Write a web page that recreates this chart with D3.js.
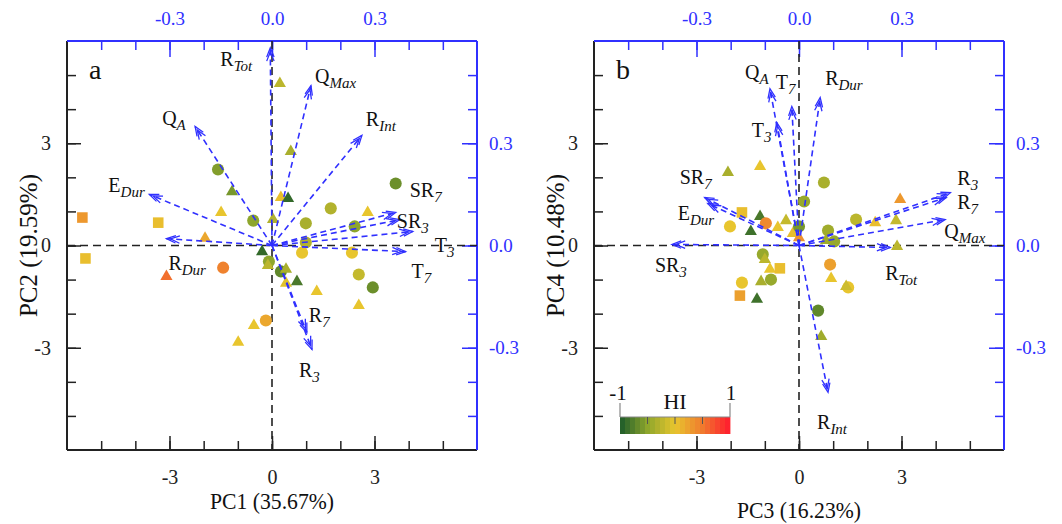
<!DOCTYPE html>
<html lang="en">
<head>
<meta charset="UTF-8">
<title>PCA biplots</title>
<script src="https://d3js.org/d3.v7.min.js"></script>
<style>
  body { margin: 0; background: #fff; }
  svg { display: block; font-family: "Liberation Serif", "Times New Roman", serif; }
</style>
</head>
<body>
<svg width="1062" height="524"></svg>
<script>
// variable names (main letters + subscript)
const varMain = ["R", "Q", "R", "Q", "E", "R", "SR", "SR", "T", "T", "R", "R"];
const varSub  = ["Tot", "Max", "Int", "A", "Dur", "Dur", "7", "3", "3", "7", "7", "3"];

// loadings, panel a (PC1, PC2)
const loadA1 = [-0.005, 0.114, 0.263, -0.225, -0.359, -0.309, 0.362, 0.374, 0.412, 0.391, 0.102, 0.117];
const loadA2 = [0.580, 0.469, 0.323, 0.349, 0.150, 0.020, 0.097, 0.076, 0.041, -0.018, -0.255, -0.305];
// loadings, panel b (PC3, PC4)
const loadB3 = [0.267, 0.428, 0.085, -0.085, -0.267, 0.062, -0.276, -0.372, -0.065, -0.021, 0.431, 0.443];
const loadB4 = [-0.006, 0.076, -0.431, 0.460, 0.123, 0.434, 0.141, 0.003, 0.361, 0.408, 0.141, 0.155];

// scores, panel a
const scoreA1 = [0.23, -1.58, -1.17, -1.49, -0.55, 0.03, -5.55, -3.33, -1.96, 0.55, 0.26, 0.47, 1.72, 0.99, 2.42, 3.62, 2.80, 0.99, 0.88, 2.34, -5.46, -3.09, -1.43, -0.29, -0.09, -0.12, 0.26, 0.41, 0.41, 0.73, -0.18, -0.53, -0.99, 1.31, 2.54, 2.95, 2.54];
const scoreA2 = [4.75, 2.23, 1.58, 0.97, 0.73, 0.76, 0.82, 0.67, 0.21, 2.76, 1.41, 1.38, 1.09, 0.65, 0.56, 1.82, 0.97, 0.09, -0.21, -0.21, -0.38, -0.91, -0.65, -0.18, -0.47, -0.59, -0.76, -0.70, -1.11, -1.06, -2.20, -2.35, -2.84, -1.35, -0.85, -1.23, -1.76];
const hiA = [-0.25, -0.55, -0.6, 0.0, -0.5, -0.3, 0.3, 0.05, 0.2, -0.35, 0.05, -0.9, -0.3, -0.35, -0.5, -0.65, 0, -0.3, 0, 0, 0.05, 0.55, 0.45, -0.9, -0.5, -0.25, -0.7, -0.35, -0.05, -0.8, 0.2, 0, 0, 0, -0.2, -0.65, 0];
const shapeA = ["t", "c", "t", "t", "c", "t", "s", "s", "t", "t", "t", "t", "c", "c", "c", "c", "t", "c", "c", "c", "s", "t", "c", "t", "c", "t", "c", "t", "t", "t", "c", "t", "t", "t", "c", "c", "t"];

// scores, panel b
const scoreB3 = [-2.08, -1.14, 0.73, 0.15, -1.67, -1.14, -0.97, -0.38, -0.62, -2.02, -1.41, -0.18, 0.0, 0.0, 0.85, 2.96, 1.67, 2.23, 2.84, 0.79, 1.03, 2.87, -1.06, -1.0, -0.85, -0.56, -1.67, -1.11, -0.82, -1.73, -1.23, 0.56, 0.65, 0.91, 0.94, 1.44, 1.38];
const scoreB4 = [2.14, 2.32, 1.85, 1.29, 0.97, 0.85, 0.65, 0.73, 0.53, 0.56, 0.41, 0.35, 0.56, 0.23, 0.44, 1.35, 0.76, 0.67, 0.73, 0.15, 0.12, -0.03, -0.26, -0.41, -0.70, -0.67, -1.09, -1.06, -1.0, -1.47, -1.58, -1.91, -2.67, -0.56, -0.97, -1.23, -1.20];
const hiB = [-0.35, 0, -0.35, -0.45, 0.05, -0.8, 0.4, -0.2, 0, 0, -0.85, 0.05, -0.6, 0.35, -0.4, 0.3, -0.25, 0.05, -0.2, -0.4, -0.45, -0.25, -0.45, -0.25, 0, 0.05, 0, -0.35, -0.45, 0.25, -0.85, -0.7, -0.4, 0.25, 0, 0, -0.15];
const shapeB = ["t", "t", "c", "c", "s", "t", "c", "t", "t", "c", "t", "t", "c", "t", "c", "t", "c", "t", "t", "t", "c", "t", "c", "t", "t", "s", "c", "t", "c", "s", "t", "c", "t", "c", "t", "c", "t"];

// tick values
const scoreTicks = [-3, 0, 3];
const loadTicks = [-0.3, 0, 0.3];

// label nudges (px) relative to arrow tips, same order as varMain
const nudgeA = [[-50, 18], [4, -3], [4, -9], [-33, -2], [-41, -2], [2, 31], [14, -15], [-3, 8], [22, 20], [6, 26], [2, -10], [-13, 28]];
const nudgeB = [[-5, 32], [-1, 18], [-11, 37], [-25, -10], [-30, 16], [5, -13], [-25, -13], [-17, 28], [-25, 15], [-16, -17], [11, 12], [7, -8]];

const svg = d3.select("svg");
const blue = "#3030ff";
const ink = "#222";
const hiColor = d3.scaleLinear()
    .domain([-1, -0.5, 0, 0.5, 1])
    .range(["#1c5a2a", "#8ea62c", "#e8c52e", "#f07a2e", "#ff1a2e"]);
const symbols = {c: d3.symbolCircle, t: d3.symbolTriangle, s: d3.symbolSquare};
const symSize = {c: 115, t: 64, s: 112};

function styleAxis(sel, col, fs) {
    sel.select(".domain").remove();
    sel.selectAll(".tick line").attr("stroke", col).attr("stroke-width", 1.5);
    sel.selectAll(".tick text").attr("fill", col).attr("font-size", fs)
        .attr("font-family", "Liberation Serif, Times New Roman, serif");
}

function drawPanel(p) {
    const x = d3.scaleLinear().domain([-6, 6]).range([p.left, p.left + 410]);
    const y = d3.scaleLinear().domain([-6, 6]).range([450, 41]);
    const lx = d3.scaleLinear().domain([-0.6, 0.6]).range(x.range());
    const ly = d3.scaleLinear().domain([-0.6, 0.6]).range(y.range());
    const g = svg.append("g");
    const minor = d3.range(-5, 6);
    const fmtL = d => d.toFixed(1);

    // bottom
    g.append("g").attr("transform", "translate(0,450)")
        .call(d3.axisBottom(x).tickValues(minor).tickSizeInner(-9).tickSizeOuter(0).tickFormat(""))
        .call(s => styleAxis(s, ink, 20));
    g.append("g").attr("transform", "translate(0,450)")
        .call(d3.axisBottom(x).tickValues(scoreTicks).tickSizeInner(-14).tickSizeOuter(0).tickPadding(20).tickFormat(d => String(d)))
        .call(s => styleAxis(s, ink, 20));
    // left
    g.append("g").attr("transform", `translate(${p.left},0)`)
        .call(d3.axisLeft(y).tickValues(minor).tickSizeInner(-9).tickSizeOuter(0).tickFormat(""))
        .call(s => styleAxis(s, ink, 20));
    g.append("g").attr("transform", `translate(${p.left},0)`)
        .call(d3.axisLeft(y).tickValues(scoreTicks).tickSizeInner(-14).tickSizeOuter(0).tickPadding(16).tickFormat(d => String(d)))
        .call(s => styleAxis(s, ink, 20));
    // top (loadings)
    g.append("g").attr("transform", "translate(0,41)")
        .call(d3.axisTop(lx).tickValues(minor.map(d => d / 10)).tickSizeInner(-9).tickSizeOuter(0).tickFormat(""))
        .call(s => styleAxis(s, blue, 19));
    g.append("g").attr("transform", "translate(0,41)")
        .call(d3.axisTop(lx).tickValues(loadTicks).tickSizeInner(-16).tickSizeOuter(0).tickPadding(16).tickFormat(fmtL))
        .call(s => styleAxis(s, blue, 19));
    // right (loadings)
    g.append("g").attr("transform", `translate(${p.left + 410},0)`)
        .call(d3.axisRight(ly).tickValues(minor.map(d => d / 10)).tickSizeInner(-9).tickSizeOuter(0).tickFormat(""))
        .call(s => styleAxis(s, blue, 19));
    g.append("g").attr("transform", `translate(${p.left + 410},0)`)
        .call(d3.axisRight(ly).tickValues(loadTicks).tickSizeInner(-15).tickSizeOuter(0).tickPadding(12).tickFormat(fmtL))
        .call(s => styleAxis(s, blue, 19));

    // frame
    const [x0, x1] = x.range();
    g.append("line").attr("x1", x0).attr("x2", x0).attr("y1", 41).attr("y2", 450).attr("stroke", ink).attr("stroke-width", 2);
    g.append("line").attr("x1", x0).attr("x2", x1).attr("y1", 450).attr("y2", 450).attr("stroke", ink).attr("stroke-width", 2);
    g.append("line").attr("x1", x0).attr("x2", x1).attr("y1", 41).attr("y2", 41).attr("stroke", blue).attr("stroke-width", 2);
    g.append("line").attr("x1", x1).attr("x2", x1).attr("y1", 41).attr("y2", 450).attr("stroke", blue).attr("stroke-width", 2);

    // zero lines
    g.append("line").attr("x1", x0).attr("x2", x1).attr("y1", y(0)).attr("y2", y(0))
        .attr("stroke", ink).attr("stroke-width", 1.6).attr("stroke-dasharray", "8,5");
    g.append("line").attr("x1", x(0)).attr("x2", x(0)).attr("y1", 41).attr("y2", 450)
        .attr("stroke", ink).attr("stroke-width", 1.6).attr("stroke-dasharray", "8,5");

    // observations
    g.append("g").selectAll("path")
        .data(d3.range(p.sx.length))
        .join("path")
        .attr("transform", i => `translate(${x(p.sx[i])},${y(p.sy[i])})`)
        .attr("d", i => d3.symbol(symbols[p.shape[i]], symSize[p.shape[i]])())
        .attr("fill", i => hiColor(p.hi[i]));

    // loading vectors
    const ox = lx(0), oy = ly(0);
    const vec = g.append("g");
    varMain.forEach((m, i) => {
        const tx = lx(p.lx[i]), ty = ly(p.ly[i]);
        vec.append("line").attr("x1", ox).attr("y1", oy).attr("x2", tx).attr("y2", ty)
            .attr("stroke", blue).attr("stroke-width", 1.6).attr("stroke-dasharray", "6,4");
        const a = Math.atan2(ty - oy, tx - ox);
        [0, 4].forEach(k => {
            const bx = tx - k * Math.cos(a), by = ty - k * Math.sin(a);
            const w1 = [bx - 10 * Math.cos(a - 0.38), by - 10 * Math.sin(a - 0.38)];
            const w2 = [bx - 10 * Math.cos(a + 0.38), by - 10 * Math.sin(a + 0.38)];
            vec.append("path").attr("d", `M${w1}L${bx},${by}L${w2}`)
                .attr("fill", "none").attr("stroke", blue).attr("stroke-width", 1.3);
        });
        const t = vec.append("text")
            .attr("x", tx + p.nudge[i][0]).attr("y", ty + p.nudge[i][1])
            .attr("font-size", 20).attr("fill", "#111");
        t.append("tspan").text(m);
        t.append("tspan").attr("font-style", "italic").attr("font-size", 15).attr("dy", 5).text(varSub[i]);
    });

    // panel letter
    g.append("text").attr("x", x0 + 22).attr("y", 79).attr("font-size", 28).attr("fill", "#111").text(p.letter);

    // axis titles (the horizontal ones are set condensed, as in the figure)
    g.append("text").attr("x", x(0)).attr("y", p.xTitleY).attr("text-anchor", "middle")
        .attr("font-size", 23).attr("textLength", 124).attr("lengthAdjust", "spacingAndGlyphs")
        .attr("fill", "#111").text(p.xTitle);
    g.append("text").attr("transform", `translate(${x0 - 39},${y(0)}) rotate(-90)`)
        .attr("text-anchor", "middle").attr("dy", "0.35em")
        .attr("font-size", 25).attr("fill", "#111").text(p.yTitle);
}

drawPanel({left: 67, letter: "a", xTitle: "PC1 (35.67%)", yTitle: "PC2 (19.59%)", xTitleY: 509,
    sx: scoreA1, sy: scoreA2, hi: hiA, shape: shapeA, lx: loadA1, ly: loadA2, nudge: nudgeA});
drawPanel({left: 594, letter: "b", xTitle: "PC3 (16.23%)", yTitle: "PC4 (10.48%)", xTitleY: 518,
    sx: scoreB3, sy: scoreB4, hi: hiB, shape: shapeB, lx: loadB3, ly: loadB4, nudge: nudgeB});

// HI colour bar legend (panel b)
const lg = svg.append("g");
const lgx = d3.scaleLinear().domain([-1, 1]).range([620, 730]);
const steps = d3.range(22);
lg.selectAll("rect").data(steps).join("rect")
    .attr("x", i => lgx(-1 + i * 2 / 22))
    .attr("width", lgx(-1 + 2 / 22) - lgx(-1) + 0.4)
    .attr("y", 417).attr("height", 17)
    .attr("fill", i => hiColor(-1 + (i + 0.5) * 2 / 22));
lg.append("line").attr("x1", lgx(-1)).attr("x2", lgx(1)).attr("y1", 417).attr("y2", 417).attr("stroke", "#888").attr("stroke-width", 1);
[-1, 1].forEach(v => lg.append("line").attr("x1", lgx(v)).attr("x2", lgx(v)).attr("y1", 403).attr("y2", 417).attr("stroke", "#888").attr("stroke-width", 1.2));
[-0.5, 0, 0.5].forEach(v => lg.append("line").attr("x1", lgx(v)).attr("x2", lgx(v)).attr("y1", 417).attr("y2", 424).attr("stroke", "#555").attr("stroke-width", 1));
lg.append("text").attr("x", lgx(-1) - 2).attr("y", 400).attr("text-anchor", "middle").attr("font-size", 21).attr("fill", "#111").text("-1");
lg.append("text").attr("x", lgx(1) + 1).attr("y", 400).attr("text-anchor", "middle").attr("font-size", 21).attr("fill", "#111").text("1");
lg.append("text").attr("x", lgx(0)).attr("y", 409).attr("text-anchor", "middle").attr("font-size", 22).attr("fill", "#111").text("HI");
</script>
</body>
</html>
